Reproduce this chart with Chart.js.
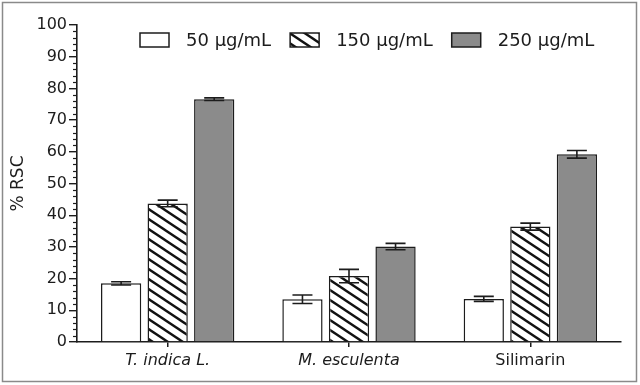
<!DOCTYPE html>
<html>
<head>
<meta charset="utf-8">
<script src="https://cdn.jsdelivr.net/npm/chart.js@4/dist/chart.umd.min.js"></script>
<style>
  html, body { margin: 0; padding: 0; background: #fff; }
  #wrap { position: relative; width: 640px; height: 385px; }
</style>
</head>
<body>
<div id="wrap"><canvas id="chart" width="640" height="385"></canvas></div>
<script>
const categories = ['T. indica L.', 'M. esculenta', 'Silimarin'];
const doseLabels = ['50 μg/mL', '150 μg/mL', '250 μg/mL'];
const rsc50 = [18.5, 13.5, 13.6];
const err50 = [0.5, 1.35, 0.8];
const rsc150 = [43.7, 20.8, 36.4];
const err150 = [1.05, 2.1, 1.1];
const rsc250 = [76.6, 30.1, 59.2];
const err250 = [0.4, 1.0, 1.2];
const yTicks = [0, 10, 20, 30, 40, 50, 60, 70, 80, 90, 100];

const ink = '#1c1c1c';
const font = 'DejaVu Sans';

// diagonal hatch for the middle dose (lines falling left to right)
function makeHatch() {
    const c = document.createElement('canvas');
    c.width = 15; c.height = 10;
    const g = c.getContext('2d');
    g.fillStyle = '#fff';
    g.fillRect(0, 0, 15, 10);
    g.strokeStyle = '#111';
    g.lineWidth = 2.4;
    for (const k of [-10, 0, 10]) {
        g.beginPath();
        g.moveTo(-1.5, k - 1);
        g.lineTo(16.5, k + 11);
        g.stroke();
    }
    return g.createPattern(c, 'repeat');
}
const hatch = makeHatch();

const fills = ['#ffffff', hatch, '#8b8b8b'];
const errors = [err50, err150, err250];

const errorBars = {
    id: 'errorBars',
    afterDatasetsDraw(chart) {
        const ctx = chart.ctx;
        const y = chart.scales.y;
        ctx.save();
        ctx.strokeStyle = ink;
        ctx.lineWidth = 1.6;
        chart.data.datasets.forEach((ds, i) => {
            chart.getDatasetMeta(i).data.forEach((bar, j) => {
                const v = ds.data[j], e = errors[i][j];
                const top = y.getPixelForValue(v + e);
                const bot = y.getPixelForValue(v - e);
                const cx = bar.x;
                ctx.beginPath();
                ctx.moveTo(cx, top); ctx.lineTo(cx, bot);
                ctx.moveTo(cx - 10, top); ctx.lineTo(cx + 10, top);
                ctx.moveTo(cx - 10, bot); ctx.lineTo(cx + 10, bot);
                ctx.stroke();
            });
        });
        ctx.restore();
    }
};

const extras = {
    id: 'extras',
    afterDraw(chart) {
        const ctx = chart.ctx;
        const y = chart.scales.y;
        const ax = chart.chartArea.left;
        ctx.save();
        // minor ticks on y axis
        ctx.strokeStyle = ink;
        ctx.lineWidth = 1.2;
        for (let v = 0; v <= 100; v += 2) {
            if (v % 10 === 0) continue;
            const py = Math.round(y.getPixelForValue(v)) + 0.5;
            ctx.beginPath();
            ctx.moveTo(ax - 4, py); ctx.lineTo(ax, py);
            ctx.stroke();
        }
        // legend inside the plot
        ctx.font = '18px "' + font + '"';
        ctx.textBaseline = 'middle';
        let x = 140;
        const ly = 40;
        chart.data.datasets.forEach((ds, i) => {
            ctx.fillStyle = fills[i];
            ctx.fillRect(x, ly - 7, 29, 14);
            ctx.strokeStyle = ink;
            ctx.lineWidth = 1.5;
            ctx.strokeRect(x, ly - 7, 29, 14);
            x += 29 + 17;
            ctx.fillStyle = ink;
            ctx.fillText(ds.label, x, ly + 1);
            x += ctx.measureText(ds.label).width + 19;
        });
        // outer frame
        ctx.strokeStyle = '#8a8a8a';
        ctx.lineWidth = 1.5;
        ctx.strokeRect(2.5, 2.5, 634, 379);
        ctx.restore();
    }
};

new Chart(document.getElementById('chart'), {
    type: 'bar',
    data: {
        labels: categories,
        datasets: [
            { label: doseLabels[0], data: rsc50, backgroundColor: fills[0] },
            { label: doseLabels[1], data: rsc150, backgroundColor: fills[1] },
            { label: doseLabels[2], data: rsc250, backgroundColor: fills[2] }
        ]
    },
    options: {
        responsive: false,
        animation: false,
        layout: { padding: { left: 0, right: 19, top: 25, bottom: 0 } },
        datasets: {
            bar: {
                borderColor: ink,
                borderWidth: 1.5,
                categoryPercentage: 0.77,
                barPercentage: 0.865
            }
        },
        plugins: {
            legend: { display: false },
            tooltip: { enabled: false }
        },
        scales: {
            x: {
                grid: { display: true, offset: false, drawOnChartArea: false, tickLength: 5, color: ink, lineWidth: 1.5 },
                border: { color: ink, width: 1.6 },
                ticks: {
                    padding: 4,
                    color: ink,
                    font: ctx => ({ family: font, size: 16, style: ctx.index < 2 ? 'italic' : 'normal' })
                },
                afterFit: s => { s.height = 43; }
            },
            y: {
                min: 0,
                max: 100,
                afterBuildTicks: s => { s.ticks = yTicks.map(v => ({ value: v })); },
                grid: { display: true, drawOnChartArea: false, tickLength: 8, color: ink, lineWidth: 1.4 },
                border: { color: ink, width: 1.6 },
                ticks: { padding: 2, color: ink, font: { family: font, size: 16 } },
                title: {
                    display: true,
                    text: '% RSC',
                    color: ink,
                    font: { family: font, size: 17 },
                    padding: { top: 8, bottom: 0 }
                },
                afterFit: s => { s.width = 77; }
            }
        }
    },
    plugins: [errorBars, extras]
});
</script>
</body>
</html>
